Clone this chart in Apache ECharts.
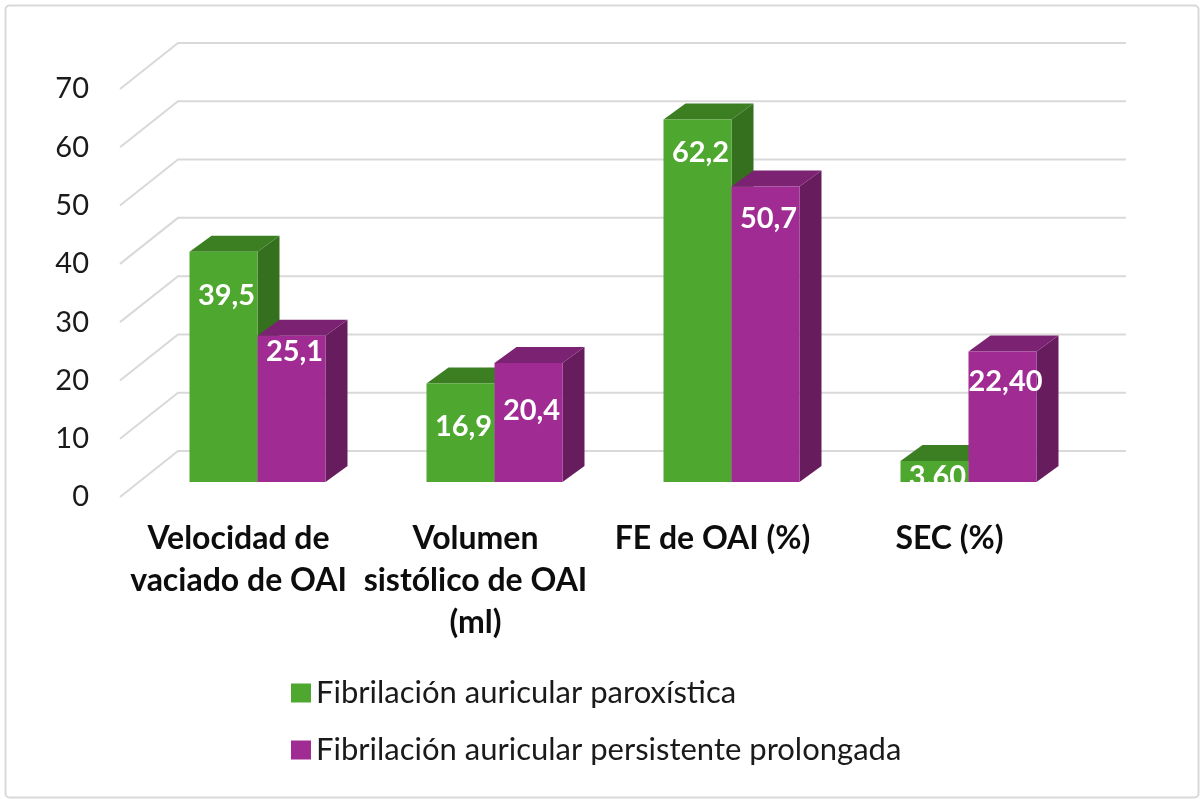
<!DOCTYPE html>
<html>
<head>
<meta charset="utf-8">
<script src="https://cdn.jsdelivr.net/npm/echarts@6/dist/echarts.min.js"></script>
<style>
  html, body { margin: 0; padding: 0; background: #ffffff; }
  #chart { width: 1200px; height: 799px; }
</style>
</head>
<body>
<div id="chart"></div>
<script>
var categories = ['Velocidad de\nvaciado de OAI', 'Volumen\nsistólico de OAI\n(ml)', 'FE de OAI (%)', 'SEC (%)'];
var seriesNames = ['Fibrilación auricular paroxística', 'Fibrilación auricular persistente prolongada'];
var paroxistica = [39.5, 16.9, 62.2, 3.6];
var persistente = [25.1, 20.4, 50.7, 22.4];
var paroxisticaLabels = ['39,5', '16,9', '62,2', '3.60'];
var persistenteLabels = ['25,1', '20,4', '50,7', '22,40'];
var yTicks = [0, 10, 20, 30, 40, 50, 60, 70];

// fake 3d: bar plane sits a bit behind the axis plane, wall further back
var FRONT = [19, -15];
var DEPTH = [22, -16];
var WALL = [58, -46];
var BAR_FRAC = 68 / 237;
// label distance below bar top (hand placed in the original)
var labelDy = [[44, 43, 33, 16], [16, 48, 32, 30]];

var greens = { front: '#4EA72E', top: '#3C7F23', side: '#35701F' };
var purples = { front: '#A02B93', top: '#7C2272', side: '#671C5E' };

function barRenderer(idx, colors, labels) {
  return function(params, api) {
    var cat = api.value(0);
    var val = api.value(1);
    var base = api.coord([cat, 0]);
    var top = api.coord([cat, val]);
    var bw = api.size([1, 0])[0] * BAR_FRAC;
    var x0 = base[0] + FRONT[0] + (idx == 0 ? -bw : 0);
    var x1 = x0 + bw;
    var yb = base[1] + FRONT[1];
    var yt = top[1] + FRONT[1];
    var dx = DEPTH[0], dy = DEPTH[1];
    return {
      type: 'group',
      children: [{
        type: 'polygon',
        shape: { points: [[x1, yt], [x1 + dx, yt + dy], [x1 + dx, yb + dy], [x1, yb]] },
        style: { fill: colors.side }
      }, {
        type: 'polygon',
        shape: { points: [[x0, yt], [x1, yt], [x1 + dx, yt + dy], [x0 + dx, yt + dy]] },
        style: { fill: colors.top }
      }, {
        type: 'rect',
        shape: { x: x0, y: yt, width: bw, height: yb - yt },
        style: { fill: colors.front }
      }, {
        type: 'text',
        x: (x0 + x1) / 2 + 3,
        y: yt + labelDy[idx][cat],
        style: {
          text: labels[cat],
          fill: '#ffffff',
          font: 'bold 29px Lato',
          align: 'center',
          verticalAlign: 'middle'
        }
      }]
    };
  };
}

function gridRenderer(params, api) {
  var cs = params.coordSys;
  var y = api.coord([0, api.value(1)])[1];
  return {
    type: 'polyline',
    shape: {
      points: [[cs.x, y], [cs.x + WALL[0], y + WALL[1]], [cs.x + cs.width + WALL[0], y + WALL[1]]]
    },
    style: { stroke: '#d9d9d9', lineWidth: 2, fill: null }
  };
}

var chart = echarts.init(document.getElementById('chart'));
chart.setOption({
  backgroundColor: '#ffffff',
  animation: false,
  graphic: [{
    type: 'rect',
    left: 3,
    top: 3,
    shape: { width: 1193, height: 792, r: 4 },
    style: { fill: null, stroke: '#d9d9d9', lineWidth: 2 },
    z: -10
  }],
  grid: { left: 120, right: 132, top: 89, bottom: 302 },
  legend: {
    data: seriesNames,
    orient: 'vertical',
    left: 286,
    top: 672,
    icon: 'rect',
    itemWidth: 20,
    itemHeight: 19,
    itemGap: 25,
    textStyle: { fontFamily: 'Lato', fontSize: 31, lineHeight: 32, color: '#1a1a1a' }
  },
  xAxis: {
    type: 'category',
    data: categories,
    axisLine: { show: false },
    axisTick: { show: false },
    axisLabel: {
      interval: 0,
      margin: 21,
      fontFamily: 'Lato',
      fontWeight: 'bold',
      fontSize: 32,
      lineHeight: 42,
      color: '#0d0d0d'
    }
  },
  yAxis: {
    type: 'value',
    min: 0,
    max: 70,
    interval: 10,
    axisLine: { show: false },
    axisTick: { show: false },
    splitLine: { show: false },
    axisLabel: { margin: 31, fontFamily: 'Lato', fontSize: 29, color: '#1a1a1a' }
  },
  series: [{
    type: 'custom',
    name: 'wall',
    renderItem: gridRenderer,
    data: yTicks.map(function(v) { return [0, v]; }),
    encode: { x: 0, y: 1 },
    silent: true,
    z: 1
  }, {
    type: 'custom',
    name: seriesNames[0],
    renderItem: barRenderer(0, greens, paroxisticaLabels),
    itemStyle: { color: greens.front },
    data: paroxistica.map(function(v, i) { return [i, v]; }),
    encode: { x: 0, y: 1 },
    z: 2
  }, {
    type: 'custom',
    name: seriesNames[1],
    renderItem: barRenderer(1, purples, persistenteLabels),
    itemStyle: { color: purples.front },
    data: persistente.map(function(v, i) { return [i, v]; }),
    encode: { x: 0, y: 1 },
    z: 3
  }]
});
</script>
</body>
</html>
